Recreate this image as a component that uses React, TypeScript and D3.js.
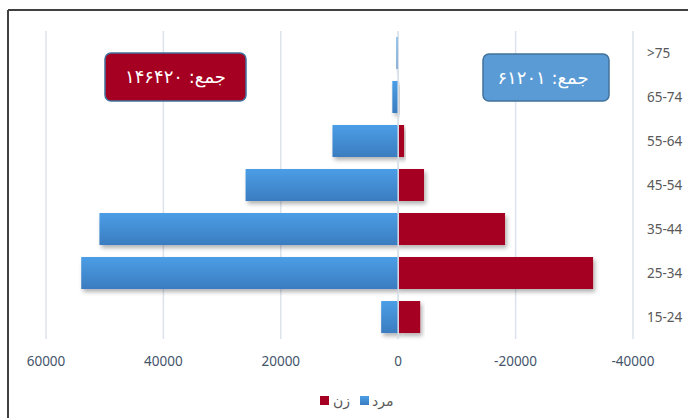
import React from "react";
import * as d3 from "d3";

const categories = ["15-24", "25-34", "35-44", "45-54", "55-64", "65-74", ">75"];
const menValues = [2900, 54000, 50900, 26000, 11200, 1000, 300];
const womenValues = [-3750, -33200, -18200, -4400, -1000, 0, 0];
const tickValues = [60000, 40000, 20000, 0, -20000, -40000];
const legendLabels = { women: "زن", men: "مرد" };
const womenTotalLabel = "جمع: ۱۴۶۴۲۰";
const menTotalLabel = "جمع: ۶۱۲۰۱";

export default function App() {
  const W = 688;
  const H = 418;
  const x = d3.scaleLinear().domain([60000, -40000]).range([46, 633]);
  const y = d3
    .scaleBand<string>()
    .domain([...categories].reverse())
    .range([31, 339])
    .paddingInner(0.273)
    .paddingOuter(0.136);
  const bw = y.bandwidth();
  const font = "'Noto Sans', 'Open Sans', sans-serif";
  const arFont = "'DejaVu Sans', sans-serif";

  return (
    <svg
      width={W}
      height={H}
      style={{ position: "absolute", left: 0, top: 0, background: "#fff" }}
    >
      <defs>
        <linearGradient id="blueGrad" x1="0" y1="0" x2="0" y2="1">
          <stop offset="0%" stopColor="#4b9ee6" />
          <stop offset="100%" stopColor="#3b7cc0" />
        </linearGradient>
        <filter id="shadow" x="-10%" y="-30%" width="130%" height="190%">
          <feDropShadow dx="2" dy="3" stdDeviation="2" floodColor="#000" floodOpacity="0.3" />
        </filter>
      </defs>
      {/* outer border */}
      <line x1={8} y1={10} x2={W} y2={10} stroke="#404040" strokeWidth={2} />
      <line x1={8} y1={10} x2={8} y2={H} stroke="#404040" strokeWidth={2} />

      {/* gridlines */}
      {tickValues.map((t) => (
        <line
          key={"g" + t}
          x1={x(t)}
          x2={x(t)}
          y1={31}
          y2={339}
          stroke="#dce3ec"
          strokeWidth={1.5}
        />
      ))}

      {/* bars */}
      {categories.map((c, i) => {
        const yy = y(c)!;
        const m = menValues[i];
        const w = womenValues[i];
        return (
          <g key={c}>
            {m !== 0 && (
              <rect
                x={x(m)}
                y={yy}
                width={x(0) - x(m)}
                height={bw}
                fill="url(#blueGrad)"
                filter="url(#shadow)"
              />
            )}
            {w !== 0 && (
              <rect
                x={x(0)}
                y={yy}
                width={x(w) - x(0)}
                height={bw}
                fill="#a50021"
                filter="url(#shadow)"
              />
            )}
          </g>
        );
      })}

      {/* zero line over bars */}
      <line x1={x(0)} x2={x(0)} y1={31} y2={339} stroke="#d9e1ea" strokeWidth={1.5} />

      {/* category labels */}
      {categories.map((c) => (
        <text
          key={"c" + c}
          x={647}
          y={y(c)! + bw / 2}
          dy="0.35em"
          fontFamily={font}
          fontSize={13.5}
          fill="#595959"
        >
          {c}
        </text>
      ))}

      {/* tick labels */}
      {tickValues.map((t) => (
        <text
          key={"t" + t}
          x={x(t)}
          y={361}
          dy="0.35em"
          textAnchor="middle"
          fontFamily={font}
          fontSize={13.5}
          fill="#44546a"
        >
          {t}
        </text>
      ))}

      {/* total boxes */}
      <rect x={105} y={53} width={141} height={48} rx={6} fill="#a50021" stroke="#41719c" strokeWidth={1.5} />
      <text
        x={175.5}
        y={77}
        dy="0.35em"
        textAnchor="middle"
        direction="rtl"
        fontFamily={arFont}
        fontSize={18}
        fill="#ffffff"
      >
        {womenTotalLabel}
      </text>
      <rect x={483} y={54} width={126} height={47} rx={6} fill="#5b9bd5" stroke="#41719c" strokeWidth={1.5} />
      <text
        x={543}
        y={77.5}
        dy="0.35em"
        textAnchor="middle"
        direction="rtl"
        fontFamily={arFont}
        fontSize={18}
        fill="#ffffff"
      >
        {menTotalLabel}
      </text>

      {/* legend */}
      <rect x={320} y={396} width={9} height={9} fill="#a50021" />
      <text x={333} y={401} dy="0.35em" fontFamily={arFont} fontSize={14} fill="#595959">
        {legendLabels.women}
      </text>
      <rect x={360} y={396} width={9} height={9} fill="url(#blueGrad)" />
      <text x={372} y={401} dy="0.35em" fontFamily={arFont} fontSize={14} fill="#595959">
        {legendLabels.men}
      </text>
    </svg>
  );
}
